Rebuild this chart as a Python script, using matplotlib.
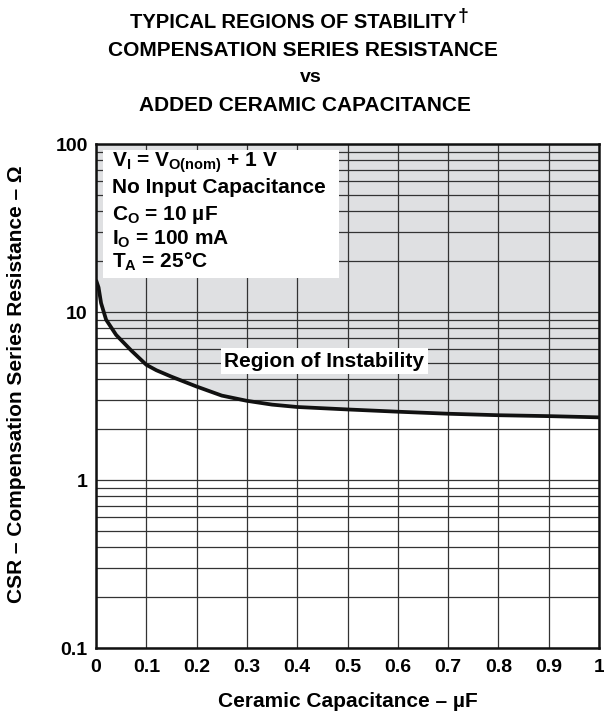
import numpy as np
import matplotlib.pyplot as plt
from matplotlib.patches import Rectangle
from matplotlib.ticker import LogLocator, NullFormatter

plt.rcParams['font.family'] = ['Liberation Sans', 'DejaVu Sans']
plt.rcParams['font.weight'] = 'bold'
plt.rcParams['mathtext.fontset'] = 'custom'
plt.rcParams['mathtext.rm'] = 'Liberation Sans:bold'
plt.rcParams['mathtext.it'] = 'Liberation Sans:bold'
plt.rcParams['mathtext.bf'] = 'Liberation Sans:bold'

# stability boundary: minimum ESR vs added ceramic capacitance
cap_uF = [0, 0.005, 0.01, 0.02, 0.04, 0.07, 0.1, 0.12, 0.15, 0.2, 0.25,
          0.3, 0.35, 0.4, 0.5, 0.6, 0.7, 0.8, 0.9, 1.0]
csr_ohm = [15.5, 14.0, 11.3, 9.0, 7.3, 5.9, 4.85, 4.5, 4.12, 3.6, 3.18,
           2.96, 2.81, 2.72, 2.63, 2.55, 2.48, 2.43, 2.40, 2.36]

x_ticks = [0, 0.1, 0.2, 0.3, 0.4, 0.5, 0.6, 0.7, 0.8, 0.9, 1]
x_labels = ['0', '0.1', '0.2', '0.3', '0.4', '0.5', '0.6', '0.7', '0.8', '0.9', '1']
y_ticks = [0.1, 1, 10, 100]
y_labels = ['0.1', '1', '10', '100']

conditions = [r'V$_\mathregular{I}$ = V$_\mathregular{O(nom)}$ + 1 V',
              'No Input Capacitance',
              r'C$_\mathregular{O}$ = 10 µF',
              r'I$_\mathregular{O}$ = 100 mA',
              r'T$_\mathregular{A}$ = 25°C']

fig = plt.figure(figsize=(6.04, 7.15), dpi=100)
ax = fig.add_axes([0.159, 0.0937, 0.8327, 0.7049])

ax.fill_between(cap_uF, csr_ohm, 100, color='#dfe0e2', lw=0, zorder=0.2)
ax.plot(cap_uF, csr_ohm, color='#111111', lw=2.7, zorder=3,
        solid_capstyle='butt', solid_joinstyle='round')

ax.set_yscale('log')
ax.set_xlim(0, 1)
ax.set_ylim(0.1, 100)
ax.set_xticks(x_ticks)
ax.set_xticklabels(x_labels)
ax.set_yticks(y_ticks)
ax.set_yticklabels(y_labels)
ax.yaxis.set_minor_locator(LogLocator(base=10, subs=np.arange(2, 10)))
ax.yaxis.set_minor_formatter(NullFormatter())
ax.tick_params(which='both', length=0, labelsize=14)
ax.tick_params(axis='x', pad=8)
ax.tick_params(axis='y', pad=6)

ax.grid(True, which='both', color='#333333', lw=0.9)
ax.set_axisbelow(True)
for s in ax.spines.values():
    s.set_linewidth(1.8)
    s.set_color('#111111')
    s.set_zorder(5)

# conditions box
ax.add_patch(Rectangle((0.014, 0.734), 0.469, 0.254, transform=ax.transAxes,
                       facecolor='white', edgecolor='none', zorder=2))
baselines = [0.954, 0.903, 0.849, 0.800, 0.754]
for line, yb in zip(conditions, baselines):
    ax.text(0.032, yb, line, transform=ax.transAxes, fontsize=15,
            fontweight='bold', va='baseline', ha='left', zorder=4)

ax.text(0.454, 0.569, 'Region of Instability', transform=ax.transAxes,
        fontsize=15, fontweight='bold', ha='center', va='center', zorder=4,
        bbox=dict(facecolor='white', edgecolor='none', pad=2.5))

ax.set_xlabel('Ceramic Capacitance – µF', fontsize=15, fontweight='bold')
ax.xaxis.set_label_coords(0.5, -0.088)
ax.set_ylabel('CSR – Compensation Series Resistance – Ω', fontsize=15,
              fontweight='bold')
ax.yaxis.set_label_coords(-0.14, 0.524)

t1 = fig.text(0.485, 0.969, 'TYPICAL REGIONS OF STABILITY', fontsize=14.5,
              fontweight='bold', ha='center', va='center')
ax.annotate('†', xy=(1, 1), xycoords=t1, xytext=(1, 3), textcoords='offset points',
            fontsize=14, fontweight='bold', ha='left', va='top', annotation_clip=False)
fig.text(0.502, 0.9287, 'COMPENSATION SERIES RESISTANCE', fontsize=15,
         fontweight='bold', ha='center', va='center')
fig.text(0.515, 0.891, 'vs', fontsize=14, fontweight='bold', ha='center', va='center')
fig.text(0.505, 0.853, 'ADDED CERAMIC CAPACITANCE', fontsize=15,
         fontweight='bold', ha='center', va='center')

fig.savefig('out.png', dpi=100)
